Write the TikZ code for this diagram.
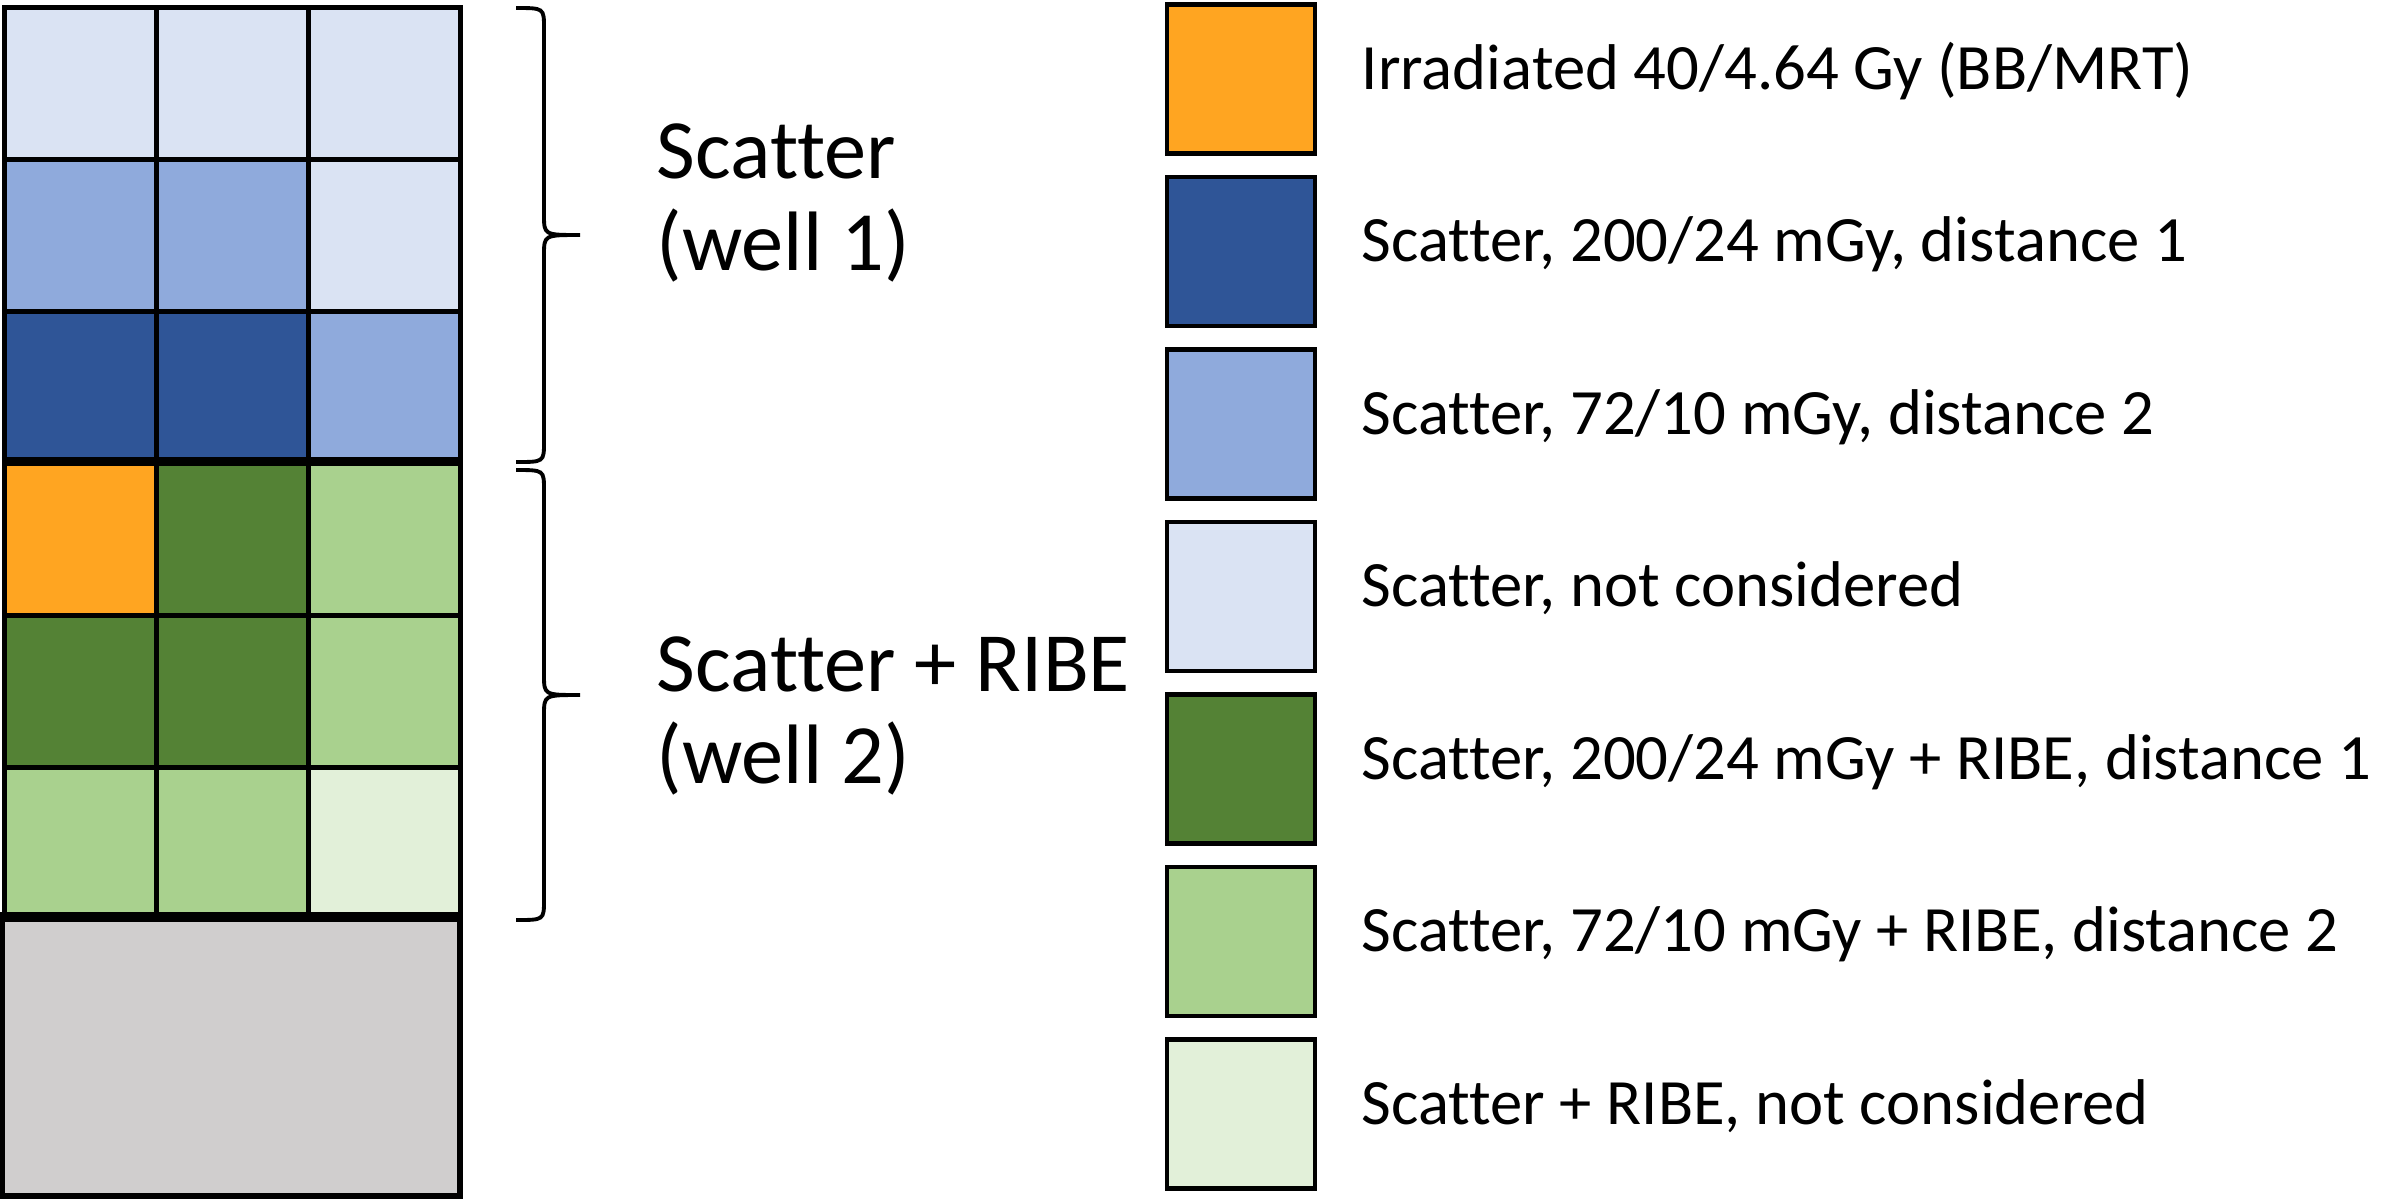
\documentclass[tikz,border=0pt]{standalone}
\usepackage{fontspec}
\setmainfont{Carlito}[Ligatures=NoCommon]
\usetikzlibrary{positioning}

\definecolor{irrorange}{HTML}{FFA521}
\definecolor{scatdark}{HTML}{2F5597}
\definecolor{scatmid}{HTML}{8FAADC}
\definecolor{scatpale}{HTML}{DAE3F3}
\definecolor{ribedark}{HTML}{548235}
\definecolor{ribemid}{HTML}{A9D18E}
\definecolor{ribepale}{HTML}{E2F0D9}
\definecolor{emptygray}{HTML}{D0CECE}

\tikzset{
  cell/.style={draw, line width=1.5pt, minimum size=1.52cm, inner sep=0pt},
  keybox/.style={draw, line width=1.2pt, minimum width=1.48cm, minimum height=1.49cm, inner sep=0pt},
  keytext/.style={anchor=west, inner sep=0pt, text height=1.6ex, text depth=0.4ex,
    font=\fontsize{18.4}{22}\selectfont},
  welltext/.style={anchor=west, align=left, inner sep=0pt, font=\fontsize{24}{26}\selectfont},
  bracepen/.style={line width=1.1pt},
}

% curly brace opening to the right, #1 top and #2 bottom (depth below top edge)
\newcommand{\wellbrace}[2]{%
  \pgfmathsetmacro\bmid{(#1+#2)/2}
  \draw[bracepen] (5.16,-#1) .. controls (5.44,-#1) .. (5.44,{-#1-0.2})
    -- (5.44,{-\bmid+0.2}) .. controls (5.44,-\bmid) .. (5.80,-\bmid)
    .. controls (5.44,-\bmid) .. (5.44,{-\bmid-0.2})
    -- (5.44,{-#2+0.2}) .. controls (5.44,-#2) .. (5.16,-#2);
}

\begin{document}
\begin{tikzpicture}
  \def\cw{1.52}
  \def\xo{0.045}
  \def\yo{0.076}
  \def\kstep{1.725}

  \useasboundingbox (0,0) rectangle (23.82,-12);

  % plate, six rows of three wells
  \foreach \r/\a/\b/\c in {0/scatpale/scatpale/scatpale,
                           1/scatmid/scatmid/scatpale,
                           2/scatdark/scatdark/scatmid,
                           3/irrorange/ribedark/ribemid,
                           4/ribedark/ribedark/ribemid,
                           5/ribemid/ribemid/ribepale} {
    \node[cell, fill=\a] (c\r0) at ({\xo+0.5*\cw}, {-\yo-(\r+0.5)*\cw}) {};
    \node[cell, fill=\b] (c\r1) at ({\xo+1.5*\cw}, {-\yo-(\r+0.5)*\cw}) {};
    \node[cell, fill=\c] (c\r2) at ({\xo+2.5*\cw}, {-\yo-(\r+0.5)*\cw}) {};
  }
  \node[draw, fill=emptygray, line width=1.5pt, minimum width=4.58cm,
        minimum height=2.77cm, inner sep=0pt] (base) at (2.31,-10.575) {};
  \draw[line width=2.3pt] (c30.north west) -- (c32.north east);
  \draw[line width=2.3pt] (base.north west) -- (base.north east);

  % braces
  \wellbrace{0.08}{4.62}
  \wellbrace{4.70}{9.20}

  \node[welltext] (well1) at (6.56,-2.03) {Scatter\\(well 1)};
  \node[welltext] (well2) at (6.56,-7.16) {Scatter + RIBE\\(well 2)};

  % legend
  \foreach \i/\col/\txt in {0/irrorange/{Irradiated 40/4.64 Gy (BB/MRT)},
                            1/scatdark/{Scatter, 200/24 mGy, distance 1},
                            2/scatmid/{Scatter, 72/10 mGy, distance 2},
                            3/scatpale/{Scatter, not considered},
                            4/ribedark/{Scatter, 200/24 mGy + RIBE, distance 1},
                            5/ribemid/{Scatter, 72/10 mGy + RIBE, distance 2},
                            6/ribepale/{Scatter + RIBE, not considered}} {
    \node[keybox, fill=\col] (key\i) at (12.41, {-0.79-\kstep*\i}) {};
    \node[keytext, right=0.44cm of key\i] (lab\i) {\txt};
  }
\end{tikzpicture}
\end{document}
